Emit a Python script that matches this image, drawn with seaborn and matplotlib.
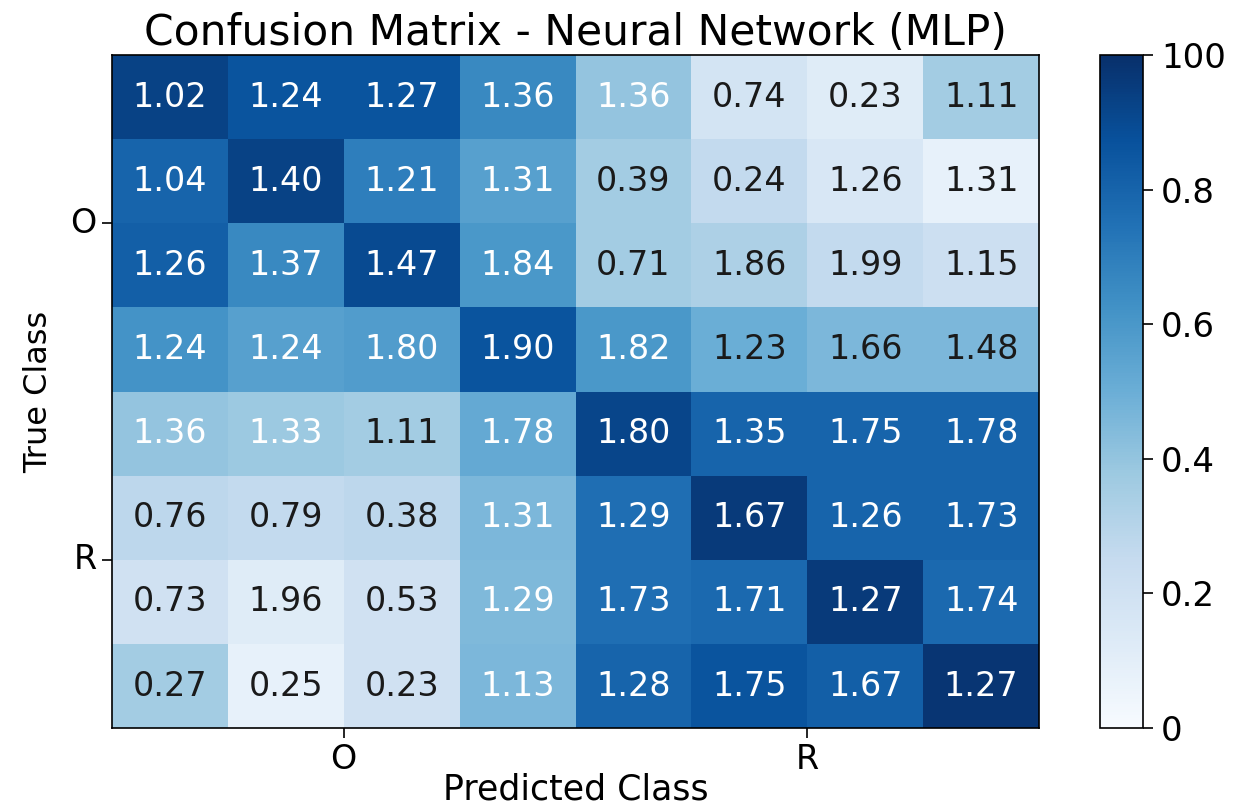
import numpy as np
import matplotlib
matplotlib.use("Agg")
import matplotlib.pyplot as plt
import seaborn as sns

# Printed cell values (as shown in each cell)
cell_labels = [
    ["1.02", "1.24", "1.27", "1.36", "1.36", "0.74", "0.23", "1.11"],
    ["1.04", "1.40", "1.21", "1.31", "0.39", "0.24", "1.26", "1.31"],
    ["1.26", "1.37", "1.47", "1.84", "0.71", "1.86", "1.99", "1.15"],
    ["1.24", "1.24", "1.80", "1.90", "1.82", "1.23", "1.66", "1.48"],
    ["1.36", "1.33", "1.11", "1.78", "1.80", "1.35", "1.75", "1.78"],
    ["0.76", "0.79", "0.38", "1.31", "1.29", "1.67", "1.26", "1.73"],
    ["0.73", "1.96", "0.53", "1.29", "1.73", "1.71", "1.27", "1.74"],
    ["0.27", "0.25", "0.23", "1.13", "1.28", "1.75", "1.67", "1.27"],
]

# Normalised intensity driving the colour of each cell
intensity = [
    [0.93, 0.86, 0.86, 0.66, 0.40, 0.18, 0.12, 0.36],
    [0.80, 0.93, 0.70, 0.56, 0.36, 0.26, 0.16, 0.08],
    [0.82, 0.66, 0.90, 0.60, 0.36, 0.33, 0.26, 0.22],
    [0.62, 0.56, 0.58, 0.86, 0.60, 0.50, 0.46, 0.46],
    [0.40, 0.38, 0.36, 0.52, 0.92, 0.80, 0.80, 0.80],
    [0.28, 0.26, 0.28, 0.46, 0.76, 0.96, 0.80, 0.80],
    [0.20, 0.12, 0.20, 0.45, 0.76, 0.78, 0.96, 0.78],
    [0.36, 0.08, 0.20, 0.46, 0.80, 0.86, 0.82, 0.98],
]

# Whether the number in a cell is printed in white
white_text = [
    [1, 1, 1, 1, 1, 0, 0, 0],
    [1, 1, 1, 1, 0, 0, 0, 0],
    [1, 1, 1, 1, 0, 0, 0, 0],
    [1, 1, 1, 1, 1, 0, 0, 0],
    [1, 1, 0, 1, 1, 1, 1, 1],
    [0, 0, 0, 1, 1, 1, 1, 1],
    [0, 0, 0, 1, 1, 1, 1, 1],
    [0, 0, 0, 1, 1, 1, 1, 1],
]

class_names = ["O", "R"]
class_tick_pos = [2, 6]
cbar_ticks = [0, 0.2, 0.4, 0.6, 0.8, 1.0]
cbar_tick_labels = ["0", "0.2", "0.4", "0.6", "0.8", "100"]

fig = plt.figure(figsize=(12.37, 8.09), dpi=100)
ax = fig.add_axes([0.0905, 0.100, 0.7495, 0.832])
cax = fig.add_axes([0.889, 0.100, 0.035, 0.832])

sns.heatmap(
    np.array(intensity), ax=ax, cbar_ax=cax, cmap="Blues", vmin=0, vmax=1,
    annot=np.array(cell_labels), fmt="", annot_kws={"fontsize": 24},
    cbar=True,
)

flat_white = np.array(white_text).ravel()
for txt, w in zip(ax.texts, flat_white):
    txt.set_color("white" if w else "#1a1a1a")

for side in ["left", "bottom", "right", "top"]:
    ax.spines[side].set_visible(True)
    ax.spines[side].set_color("black")
    ax.spines[side].set_linewidth(1.2)

ax.set_xticks(class_tick_pos)
ax.set_xticklabels(class_names, fontsize=24)
ax.set_yticks(class_tick_pos)
ax.set_yticklabels(class_names, fontsize=24, rotation=0)
ax.tick_params(length=7, width=1.2, pad=4)

ax.set_xlabel("Predicted Class", fontsize=25, labelpad=-3)
ax.set_ylabel("True Class", fontsize=23, labelpad=12)
ax.set_title("Confusion Matrix - Neural Network (MLP)", fontsize=30.5, pad=7)

cbar = ax.collections[0].colorbar
cbar.set_ticks(cbar_ticks)
cbar.set_ticklabels(cbar_tick_labels)
cbar.ax.tick_params(labelsize=24.5, length=7, width=1.2, pad=6)
cbar.outline.set_visible(True)
cbar.outline.set_linewidth(1.2)
cbar.outline.set_edgecolor("black")

fig.savefig("out.png", dpi=100)
